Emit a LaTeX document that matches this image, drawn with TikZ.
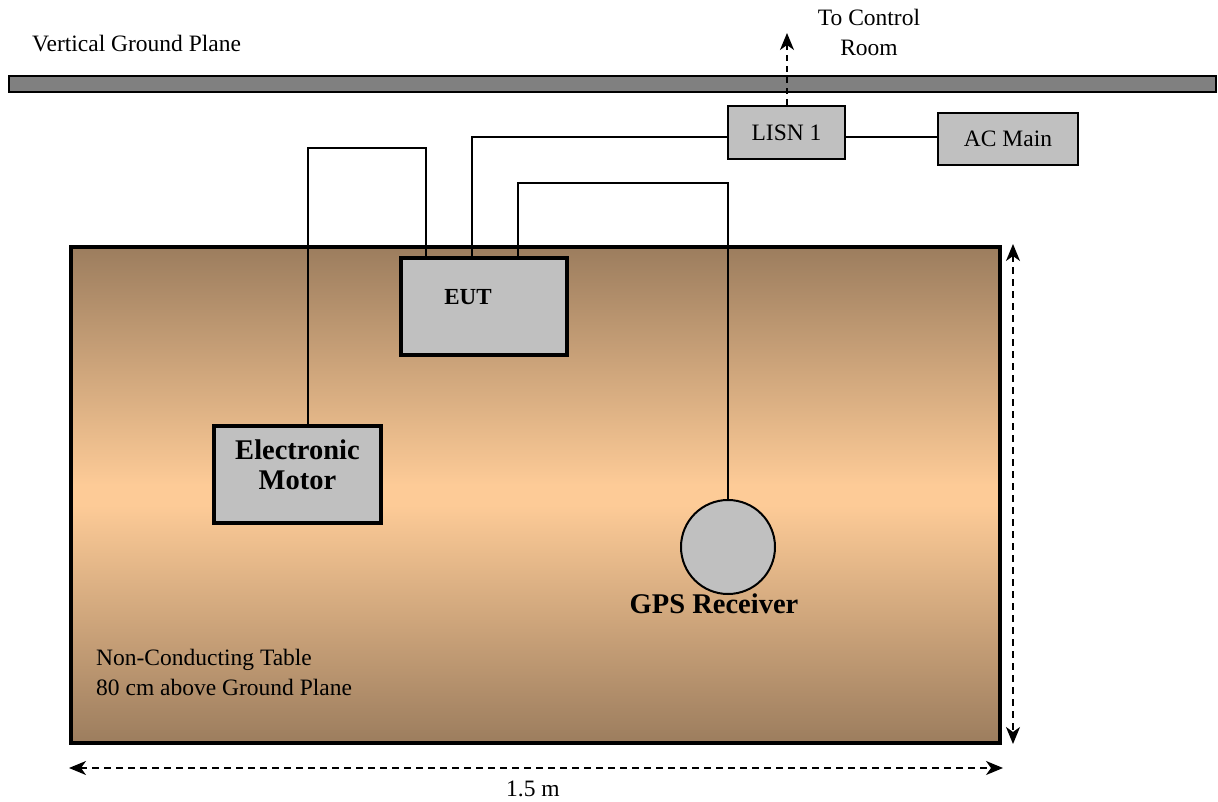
\documentclass[tikz,border=0pt]{standalone}
\usepackage{fontspec}
\setmainfont{Liberation Serif}
\usetikzlibrary{arrows.meta}
\definecolor{boxgray}{RGB}{192,192,192}
\definecolor{planegray}{RGB}{128,128,128}
\definecolor{tabdark}{RGB}{156,125,94}
\definecolor{tablight}{RGB}{253,203,151}
\pgfdeclareverticalshading{tableshade}{100bp}{
  color(0bp)=(tabdark); color(25bp)=(tabdark); color(49bp)=(tablight); color(51bp)=(tablight); color(75bp)=(tabdark); color(100bp)=(tabdark)}
\tikzset{
  box/.style={draw=black, fill=boxgray, line width=2pt, rectangle, inner sep=0pt},
  thickbox/.style={box, line width=3.5pt},
  wire/.style={draw=black, line width=1.8pt},
  dimarrow/.style={draw=black, line width=1.6pt, dash pattern=on 7pt off 5pt, {Stealth[length=17pt,width=14pt,inset=5pt]}-{Stealth[length=17pt,width=14pt,inset=5pt]}},
  txt/.style={font=\fontsize{23.5}{30}\selectfont, inner sep=0pt},
  bigtxt/.style={font=\fontsize{28.5}{30}\selectfont\bfseries, inner sep=0pt, align=center},
}
\begin{document}
\begin{tikzpicture}[x=1pt,y=-1pt]
\useasboundingbox (0,0) rectangle (1218,802);
% ground plane
\node[draw=black, fill=planegray, line width=2pt, minimum width=1207pt, minimum height=16pt, inner sep=0pt] (plane) at (612.5,84) {};
\node[txt, anchor=base west] (vgp) at (32,52) {Vertical Ground Plane};
\node[txt, align=center] (ctrl) at (869,32) {To Control\\Room};
% table
\node[draw=black, line width=3.5pt, shading=tableshade, minimum width=929pt, minimum height=496pt, inner sep=0pt] (table) at (535.5,495) {};
\node[txt, anchor=west, align=left] (tabtxt) at (96,672) {Non-Conducting Table\\80 cm above Ground Plane};
% boxes
\node[box, minimum width=117pt, minimum height=53pt, txt] (lisn) at (786.5,132.5) {LISN 1};
\node[box, minimum width=140pt, minimum height=52pt, txt] (ac) at (1008,139) {AC Main};
\node[thickbox, minimum width=166pt, minimum height=97pt] (eut) at (484,306.5) {};
\node[font=\fontsize{23}{24}\selectfont\bfseries, inner sep=0pt] (euttxt) at (468,297) {EUT};
\node[thickbox, minimum width=167pt, minimum height=97pt] (motor) at (297.5,474.5) {};
\node[bigtxt] (motortxt) at (297.5,465) {Electronic\\Motor};
\node[draw=black, fill=boxgray, line width=2pt, circle, minimum size=94pt, inner sep=0pt] (gps) at (728,547) {};
\node[bigtxt] (gpstxt) at (714,604) {GPS Receiver};
% wiring
\coordinate (eutA) at (426,257);
\coordinate (eutB) at (472,257);
\coordinate (eutC) at (518,257);
\draw[wire] (lisn.east |- 0,137) -- (ac.west |- 0,137);
\draw[wire] (lisn.west |- 0,137) -- (472,137) -- (eutB);
\draw[wire] (motor.north -| 308,0) -- (308,148) -- (426,148) -- (eutA);
\draw[wire] (eutC) -- (518,183) -- (728,183) -- (gps.north);
% control room arrow
\coordinate (ctrltip) at (787,33);
\draw[line width=1.6pt, dash pattern=on 6pt off 5pt, -{Stealth[length=17pt,width=14pt,inset=5pt]}] (lisn.north -| ctrltip) -- (ctrltip);
% dimension arrows
\coordinate (vtop) at (1013,244);
\coordinate (vbot) at (1013,744);
\draw[dimarrow] (vtop) -- (vbot);
\coordinate (hl) at (69,768);
\coordinate (hr) at (1003,768);
\draw[dimarrow] (hl) -- (hr);
\node[txt] (dim) at (533,789) {1.5 m};
\end{tikzpicture}
\end{document}
